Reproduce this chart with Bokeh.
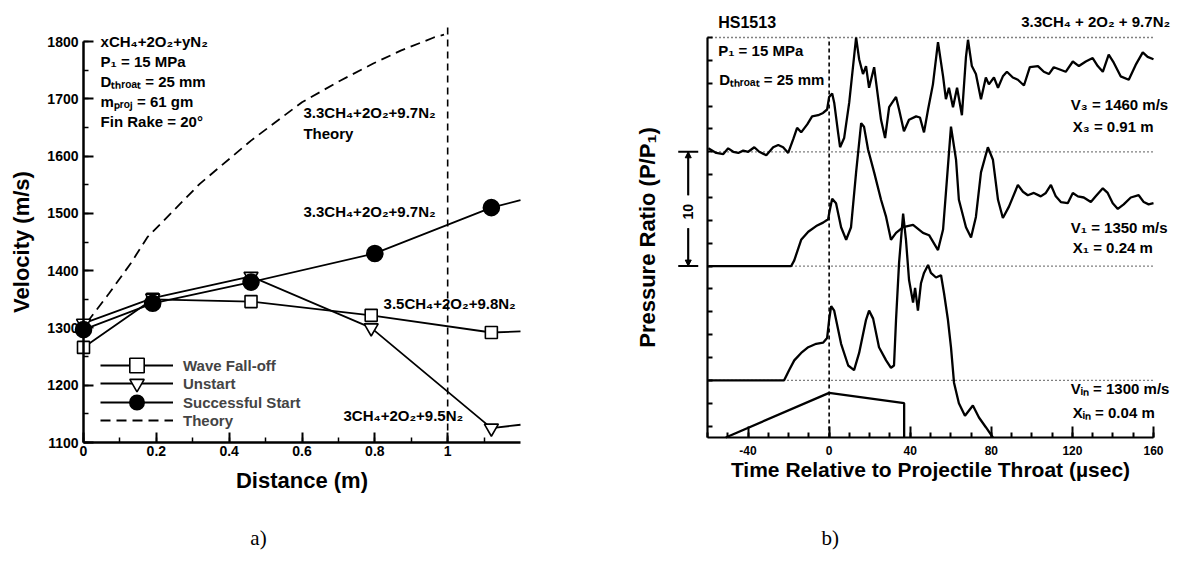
from math import pi
from bokeh.plotting import figure
from bokeh.layouts import row
from bokeh.models import (Range1d, SingleIntervalTicker, FixedTicker, NumeralTickFormatter,
                          CustomJSTickFormatter, Label, Legend, LegendItem, Arrow,
                          NormalHead, TeeHead)
from bokeh.embed import file_html
from bokeh.resources import INLINE

SANS = "Liberation Sans"
SERIF = "Liberation Serif"

# ---------------- panel a data: velocity vs distance ----------------
# last entry of each measured series = where the curve leaves the axes (no marker)
wave_dist = [0.0, 0.19, 0.46, 0.79, 1.12, 1.2]
wave_vel = [1266, 1350, 1346, 1322, 1292, 1294]
unstart_dist = [0.0, 0.19, 0.46, 0.79, 1.12, 1.2]
unstart_vel = [1308, 1352, 1390, 1300, 1125, 1131]
success_dist = [0.0, 0.19, 0.46, 0.80, 1.12, 1.2]
success_vel = [1297, 1343, 1380, 1430, 1510, 1523]
theory_dist = [0.01, 0.07, 0.13, 0.175, 0.32, 0.46, 0.60, 0.706, 0.797, 0.871, 0.962, 0.99]
theory_vel = [1310, 1360, 1413, 1458, 1552, 1627, 1694, 1732, 1762, 1784, 1807, 1812]
throat_end = 1.0
throat_line_vel = (1100, 1833)
legend_labels = ["Wave Fall-off", "Unstart", "Successful Start", "Theory"]

# ---------------- panel b data: pressure traces (offset P/P1) ----------------
trace3 = [(-59.6, 25.3), (-55.7, 24.9), (-52.2, 24.8), (-49.8, 25.3), (-47.3, 25.0), (-44.8, 24.9),
          (-42.4, 25.1), (-39.9, 25.0), (-36.9, 25.4), (-34.5, 25.0), (-31.0, 24.7), (-27.6, 25.4),
          (-25.1, 25.6), (-22.7, 25.4), (-20.2, 24.9), (-17.7, 26.1), (-15.8, 27.1), (-13.8, 26.7),
          (-10.8, 27.4), (-8.4, 28.1), (-5.4, 28.2), (-3.0, 28.4), (-1.0, 28.7), (0.0, 29.8),
          (1.5, 30.1), (2.5, 29.3), (4.4, 26.7), (5.4, 25.4), (7.4, 26.2), (9.9, 29.3),
          (13.3, 35.0), (14.8, 33.1), (16.7, 31.8), (18.2, 32.5), (19.7, 30.6), (22.2, 32.4),
          (24.1, 29.8), (25.6, 27.8), (27.6, 26.2), (29.6, 28.9), (33.0, 29.8), (34.5, 28.7),
          (36.9, 26.8), (39.4, 27.8), (42.9, 28.1), (44.8, 28.0), (46.8, 26.7), (48.8, 28.7),
          (51.2, 30.9), (53.7, 34.6), (56.2, 31.6), (57.6, 29.6), (59.1, 30.6), (61.1, 28.9),
          (63.1, 30.6), (65.5, 28.2), (67.5, 33.3), (68.5, 34.8), (70.4, 32.5), (72.4, 31.8),
          (74.9, 29.6), (77.3, 31.5), (78.8, 30.9), (81.3, 31.5), (83.3, 30.6), (85.7, 31.6),
          (87.7, 32.0), (90.6, 31.5), (93.1, 31.3), (96.1, 30.8), (99.0, 32.4), (103.0, 32.5),
          (105.9, 32.0), (108.4, 31.8), (110.8, 32.4), (113.8, 32.2), (116.7, 32.0), (120.2, 32.9),
          (123.2, 32.5), (126.6, 32.9), (130.0, 33.2), (132.5, 32.5), (135.0, 32.0), (137.9, 33.5),
          (140.4, 32.8), (143.8, 31.6), (147.8, 31.3), (151.2, 32.6), (154.7, 33.7), (157.1, 33.3),
          (160.0, 33.1)]
trace1 = [(-59.6, 15.0), (-18.7, 15.0), (-17.2, 15.5), (-13.8, 17.3), (-10.3, 18.0), (-6.4, 18.5),
          (-3.0, 18.8), (-0.5, 19.1), (0.0, 19.6), (1.5, 20.9), (3.4, 20.5), (5.9, 18.4),
          (8.4, 17.3), (10.8, 18.4), (13.3, 23.2), (15.8, 27.5), (17.2, 27.2), (19.2, 25.2),
          (22.2, 23.2), (25.6, 20.8), (28.1, 19.3), (30.5, 17.3), (33.0, 17.9), (36.5, 18.4),
          (41.4, 18.6), (46.3, 17.9), (49.3, 17.7), (53.7, 16.4), (56.2, 18.2), (57.6, 21.4),
          (60.1, 27.2), (62.6, 24.3), (64.0, 20.8), (67.5, 18.4), (70.0, 17.5), (72.4, 19.3),
          (74.9, 23.2), (78.3, 25.4), (80.8, 24.3), (83.3, 20.8), (85.7, 19.2), (88.7, 20.2),
          (93.1, 22.1), (95.6, 21.5), (98.0, 21.2), (101.0, 21.4), (104.4, 21.1), (106.9, 21.4),
          (109.4, 22.1), (111.8, 21.1), (114.3, 20.6), (117.7, 20.5), (120.2, 21.4), (122.7, 21.1),
          (125.6, 21.0), (129.1, 20.6), (131.5, 21.1), (135.0, 21.8), (137.4, 21.4), (139.9, 20.5),
          (142.4, 20.0), (145.3, 20.4), (148.8, 21.0), (152.7, 21.2), (155.2, 20.6), (157.6, 20.4),
          (160.0, 20.5)]
trace_in = [(-59.6, 5.0), (-22.2, 5.0), (-19.7, 5.9), (-17.2, 6.75), (-13.8, 7.4), (-10.3, 7.9),
            (-6.4, 8.2), (-3.0, 8.3), (-1.0, 8.7), (0.0, 10.3), (1.0, 11.5), (2.5, 11.1),
            (5.9, 8.2), (9.4, 6.3), (12.3, 5.9), (14.8, 7.4), (18.2, 10.3), (19.7, 11.1),
            (21.7, 10.4), (24.6, 7.9), (28.1, 6.75), (30.5, 6.1), (32.0, 6.3), (33.0, 10.3),
            (34.5, 15.3), (36.5, 19.6), (37.9, 17.3), (39.4, 13.8), (41.4, 11.8), (42.4, 13.1),
            (43.8, 11.1), (45.3, 13.5), (46.8, 14.4), (48.8, 15.1), (50.2, 14.4), (52.7, 14.0),
            (55.2, 14.2), (56.7, 12.6), (58.6, 10.3), (60.1, 7.9), (61.6, 4.8), (64.0, 3.0),
            (67.0, 1.9), (70.9, 2.8), (73.9, 1.75), (77.3, 0.9), (80.8, 0.0)]
projectile = [(-51.0, 0.0), (0.0, 3.9), (37.0, 3.0), (37.0, 0.0)]
time_window = (-60, 160)
ratio_window = (0, 35)
trace_baselines = [5, 15, 25, 35]
scale_bar = (15, 25)   # 10 units of P/P1


def data_range(d_lo, d_hi, px_lo, px_hi, canvas):
    """Range whose d_lo/d_hi sit at pixel px_lo/px_hi of a canvas `canvas` px long
    (pixels counted along the increasing-data direction)."""
    s = (px_hi - px_lo) / (d_hi - d_lo)
    return Range1d(d_lo - px_lo / s, d_hi + (canvas - px_hi) / s)


def style_axis(ax, tick_size, label_size, line_w):
    ax.axis_line_width = line_w
    ax.major_tick_out = 0
    ax.minor_tick_out = 0
    ax.major_tick_line_width = 2
    ax.minor_tick_line_width = 1.5
    ax.major_label_text_font = SANS
    ax.major_label_text_font_style = "bold"
    ax.major_label_text_font_size = tick_size
    ax.major_label_text_color = "black"
    ax.axis_label_text_font = SANS
    ax.axis_label_text_font_style = "bold"
    ax.axis_label_text_font_size = label_size
    ax.axis_label_text_color = "black"


# ===================== panel a =====================
WA, HA = 578, 555
pa = figure(width=WA, height=HA, output_backend="svg", toolbar_location=None,
            x_range=data_range(0, 1.2, 83, 520, WA),
            y_range=data_range(1100, 1800, HA - 442, HA - 41, HA),
            min_border=0)
pa.outline_line_color = None
pa.grid.visible = False

for ax in (pa.xaxis[0], pa.yaxis[0]):
    style_axis(ax, "14px", "22px", 2.5)
    ax.major_tick_in = 10
    ax.minor_tick_in = 5

pa.xaxis.ticker = SingleIntervalTicker(interval=0.2, num_minor_ticks=2)
pa.xaxis.formatter = NumeralTickFormatter(format="0.[0]")
pa.xaxis.fixed_location = 1100
pa.xaxis.bounds = (0, 1.2)
pa.xaxis.axis_label = "Distance (m)"
pa.xaxis.major_label_standoff = 3
pa.xaxis.axis_label_standoff = 9
pa.yaxis.ticker = SingleIntervalTicker(interval=100, num_minor_ticks=2)
pa.yaxis.fixed_location = 0
pa.yaxis.bounds = (1100, 1800)
pa.yaxis.axis_label = "Velocity (m/s)"
pa.yaxis.major_label_standoff = 5
pa.yaxis.axis_label_standoff = 10

pa.segment(x0=[throat_end], y0=[throat_line_vel[0]], x1=[throat_end], y1=[throat_line_vel[1]],
           line_color="black", line_width=1.6, line_dash="7 5")

r_theory = pa.line(theory_dist, theory_vel, line_color="black", line_width=1.8, line_dash="10 6")


def series(xs, ys, marker, size, fill):
    ln = pa.line(xs, ys, line_color="black", line_width=1.8)
    mk = pa.scatter(xs[:-1], ys[:-1], marker=marker, size=size, fill_color=fill,
                    line_color="black", line_width=1.6)
    return ln, mk


w_ln, w_mk = series(wave_dist, wave_vel, "square", 12, "white")
u_ln, u_mk = series(unstart_dist, unstart_vel, "inverted_triangle", 14, "white")
s_ln, s_mk = series(success_dist, success_vel, "circle", 16, "black")

legend_renderers = [[w_ln, w_mk], [u_ln, u_mk], [s_ln, s_mk], [r_theory]]
legend_row_px = [365, 383, 402, 420]   # row centres, px from top
for lbl, rends, cy in zip(legend_labels, legend_renderers, legend_row_px):
    pa.add_layout(Legend(items=[LegendItem(label=lbl, renderers=rends)],
                         location=(100, HA - cy - 18), padding=0, margin=0,
                         glyph_width=73, glyph_height=36, label_height=36, label_standoff=10,
                         label_text_font=SANS, label_text_font_style="bold",
                         label_text_font_size="15px", border_line_color=None,
                         background_fill_alpha=0), "center")


def lab(p, x, y, text, size="15px", align="left", font=SANS, style="bold", angle=0.0):
    p.add_layout(Label(x=x, y=y, text=text, text_font=font, text_font_style=style,
                       text_font_size=size, text_align=align, text_baseline="middle",
                       text_color="black", angle=angle))


lab(pa, 0.047, 1800, "xCH\u2084+2O\u2082+yN\u2082")
lab(pa, 0.047, 1765, "P\u2081 = 15 MPa")
lab(pa, 0.047, 1730, "D\u209c\u2095\u1d63\u2092\u2090\u209c = 25 mm")
lab(pa, 0.047, 1695, "m\u209a\u1d63\u2092\u2c7c = 61 gm")
lab(pa, 0.047, 1661, "Fin Rake = 20\u00b0")
lab(pa, 0.604, 1676, "3.3CH\u2084+2O\u2082+9.7N\u2082")
lab(pa, 0.604, 1639, "Theory")
lab(pa, 0.604, 1503, "3.3CH\u2084+2O\u2082+9.7N\u2082")
lab(pa, 0.824, 1343, "3.5CH\u2084+2O\u2082+9.8N\u2082")
lab(pa, 0.714, 1147, "3CH\u2084+2O\u2082+9.5N\u2082")
lab(pa, 0.4805, 934, "a)", size="21px", align="center", font=SERIF, style="normal")

# ===================== panel b =====================
WB, HB = 593, 555
pb = figure(width=WB, height=HB, output_backend="svg", toolbar_location=None,
            x_range=data_range(time_window[0], time_window[1], 129, 575, WB),
            y_range=data_range(ratio_window[0], ratio_window[1], HB - 437, HB - 37, HB),
            min_border=0)
pb.outline_line_color = None
pb.grid.visible = False

for ax in (pb.xaxis[0], pb.yaxis[0]):
    style_axis(ax, "12px", "21px", 2.2)
    ax.minor_tick_line_width = 2

pb.xaxis.ticker = FixedTicker(ticks=[-40, 0, 40, 80, 120, 160],
                              minor_ticks=list(range(-60, 161, 10)))
pb.xaxis.formatter = NumeralTickFormatter(format="0")
pb.xaxis.fixed_location = ratio_window[0]
pb.xaxis.bounds = time_window
pb.xaxis.major_tick_in = 11
pb.xaxis.minor_tick_in = 5
pb.xaxis.major_label_standoff = 8
pb.xaxis.axis_label_standoff = 0
pb.xaxis.axis_label = "Time Relative to Projectile Throat (\u00b5sec)"

pb.yaxis.ticker = FixedTicker(ticks=list(range(1, 36, 2)), minor_ticks=[])
pb.yaxis.formatter = CustomJSTickFormatter(code="return ''")
pb.yaxis.fixed_location = time_window[0]
pb.yaxis.bounds = ratio_window
pb.yaxis.major_tick_in = 5
pb.yaxis.major_label_standoff = 0
pb.yaxis.axis_label_standoff = 48
pb.yaxis.axis_label_text_font_size = "22px"
pb.yaxis.axis_label = "Pressure Ratio (P/P\u2081)"

nb = len(trace_baselines)
pb.segment(x0=[time_window[0]] * nb, y0=trace_baselines, x1=[time_window[1]] * nb,
           y1=trace_baselines, line_color="black", line_width=1.3, line_dash="1 3")
pb.segment(x0=[0], y0=[ratio_window[0]], x1=[0], y1=[ratio_window[1]],
           line_color="black", line_width=1.6, line_dash="4 3")

for tr in (trace3, trace1, trace_in, projectile):
    t, u = zip(*tr)
    pb.line(list(t), list(u), line_color="black", line_width=2.3)

# scale bar: 10 units of P/P1, left of the axis
sb_x = -69.5
sb_gap = (18.3, 21.2)
for y0, y1 in ((sb_gap[1], scale_bar[1]), (sb_gap[0], scale_bar[0])):
    pb.add_layout(Arrow(x_start=sb_x, y_start=y0, x_end=sb_x, y_end=y1, line_width=1.8,
                        end=TeeHead(size=20, line_width=2)))
    pb.add_layout(Arrow(x_start=sb_x, y_start=y0, x_end=sb_x, y_end=y1, line_width=1.8,
                        end=NormalHead(size=6, fill_color="black", line_color="black")))
lab(pb, sb_x, sum(sb_gap) / 2, "10", size="14px", align="center", angle=pi / 2)

lab(pb, -54.7, 36.3, "HS1513", size="16px")
lab(pb, -54.7, 33.9, "P\u2081 = 15 MPa")
lab(pb, -54.2, 31.3, "D\u209c\u2095\u1d63\u2092\u2090\u209c = 25 mm")
lab(pb, 168.2, 36.4, "3.3CH\u2084 + 2O\u2082 + 9.7N\u2082", align="right")
lab(pb, 119.2, 29.1, "V\u2083 = 1460 m/s")
lab(pb, 120.2, 27.2, "X\u2083 = 0.91 m")
lab(pb, 119.2, 18.4, "V\u2081 = 1350 m/s")
lab(pb, 120.2, 16.6, "X\u2081 = 0.24 m")
lab(pb, 119.2, 4.3, "V\u1d62\u2099 = 1300 m/s")
lab(pb, 120.2, 2.2, "X\u1d62\u2099 = 0.04 m")
lab(pb, 0.5, -8.75, "b)", size="21px", align="center", font=SERIF, style="normal")

layout = row(pa, pb)
open("out.html", "w").write(file_html(layout, INLINE))
